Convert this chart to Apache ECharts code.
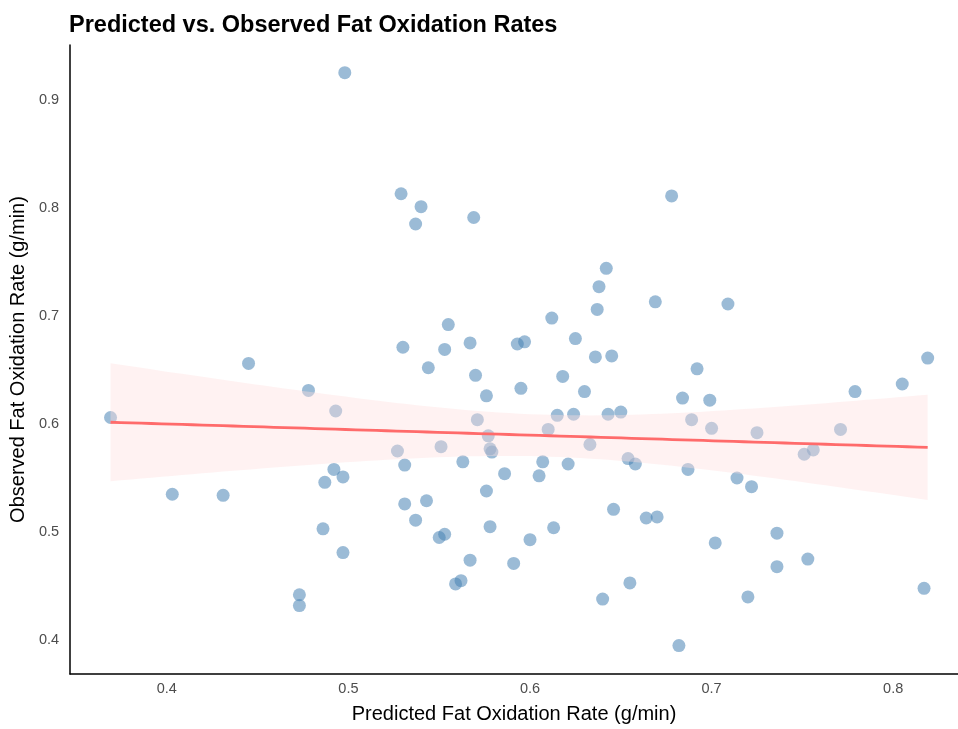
<!DOCTYPE html>
<html>
<head>
<meta charset="utf-8">
<script src="https://cdn.jsdelivr.net/npm/echarts@6/dist/echarts.min.js"></script>
<style>html,body{margin:0;padding:0;background:#fff}#chart{width:958px;height:729px}</style>
</head>
<body>
<div id="chart"></div>
<script>
// Predicted (x) and observed (y) fat oxidation rates, g/min
const predicted = [
  0.498,0.529,0.540,0.537,0.569,0.678,0.642,0.638,0.669,0.709,
  0.637,0.612,0.555,0.625,0.530,0.553,0.567,0.593,0.597,0.445,
  0.645,0.636,0.692,0.544,0.819,0.570,0.618,0.805,0.779,0.478,
  0.595,0.630,0.576,0.684,0.699,0.493,0.369,0.571,0.615,0.624,
  0.643,0.650,0.689,0.700,0.610,0.725,0.771,0.577,0.633,0.527,
  0.551,0.578,0.579,0.751,0.756,0.654,0.658,0.563,0.607,0.621,
  0.531,0.492,0.687,0.586,0.605,0.497,0.487,0.714,0.722,0.576,
  0.403,0.431,0.543,0.531,0.646,0.664,0.670,0.537,0.613,0.578,
  0.486,0.736,0.553,0.550,0.600,0.702,0.497,0.567,0.591,0.753,
  0.736,0.562,0.559,0.655,0.473,0.473,0.640,0.720,0.817,0.682
];
const observed = [
  0.925,0.813,0.801,0.785,0.791,0.811,0.744,0.727,0.713,0.711,
  0.706,0.698,0.692,0.679,0.671,0.669,0.675,0.674,0.676,0.656,
  0.663,0.662,0.651,0.652,0.661,0.645,0.644,0.637,0.630,0.631,
  0.633,0.630,0.626,0.624,0.622,0.612,0.606,0.604,0.608,0.609,
  0.609,0.611,0.604,0.596,0.595,0.592,0.595,0.589,0.581,0.575,
  0.579,0.577,0.574,0.572,0.576,0.568,0.563,0.565,0.565,0.563,
  0.562,0.558,0.558,0.554,0.552,0.551,0.546,0.550,0.542,0.538,
  0.535,0.534,0.529,0.526,0.521,0.513,0.514,0.511,0.504,0.505,
  0.503,0.499,0.498,0.495,0.493,0.490,0.481,0.474,0.471,0.475,
  0.468,0.455,0.452,0.453,0.442,0.432,0.438,0.440,0.448,0.395
];
const xTicks = [0.4, 0.5, 0.6, 0.7, 0.8];
const yTicks = [0.4, 0.5, 0.6, 0.7, 0.8, 0.9];

// linear fit with 95% confidence band (as geom_smooth(method = "lm"))
const n = predicted.length;
const mx = predicted.reduce((a, b) => a + b, 0) / n;
const my = observed.reduce((a, b) => a + b, 0) / n;
let sxx = 0, sxy = 0;
for (let i = 0; i < n; i++) { sxx += (predicted[i] - mx) ** 2; sxy += (predicted[i] - mx) * (observed[i] - my); }
const slope = sxy / sxx, intercept = my - slope * mx;
let sse = 0;
for (let i = 0; i < n; i++) sse += (observed[i] - (intercept + slope * predicted[i])) ** 2;
const s = Math.sqrt(sse / (n - 2));
const tq = 1.9845;
const xmin = Math.min(...predicted), xmax = Math.max(...predicted);
const fit = [], upper = [], lower = [];
for (let k = 0; k <= 80; k++) {
  const x = xmin + (xmax - xmin) * k / 80;
  const yh = intercept + slope * x;
  const se = s * Math.sqrt(1 / n + (x - mx) ** 2 / sxx);
  fit.push([x, yh]); upper.push([x, yh + tq * se]); lower.push([x, yh - tq * se]);
}
const bandPoly = upper.concat(lower.slice().reverse());

const chart = echarts.init(document.getElementById('chart'));
const font = 'Liberation Sans, Arial, sans-serif';
chart.setOption({
  animation: false,
  backgroundColor: '#ffffff',
  textStyle: { fontFamily: font },
  title: {
    text: 'Predicted vs. Observed Fat Oxidation Rates',
    left: 64, top: 9,
    textStyle: { fontSize: 23.5, fontWeight: 'bold', color: '#000', fontFamily: font }
  },
  grid: { left: 68, right: 0, top: 45, bottom: 52, containLabel: false },
  xAxis: {
    type: 'value', min: 0.3467, max: 0.8357,
    name: 'Predicted Fat Oxidation Rate (g/min)', nameLocation: 'middle', nameGap: 30,
    nameTextStyle: { fontSize: 20, color: '#000', fontFamily: font },
    axisLine: { show: true, onZero: false, lineStyle: { color: '#000', width: 1.5 } },
    axisTick: { show: false },
    splitLine: { show: false },
    axisLabel: { customValues: xTicks, color: '#4D4D4D', fontSize: 14.5, margin: 7, fontFamily: font,
      formatter: v => v.toFixed(1) }
  },
  yAxis: {
    type: 'value', min: 0.3687, max: 0.9506,
    name: 'Observed Fat Oxidation Rate (g/min)', nameLocation: 'middle', nameGap: 36,
    nameTextStyle: { fontSize: 20, color: '#000', fontFamily: font },
    axisLine: { show: true, onZero: false, lineStyle: { color: '#000', width: 1.5 } },
    axisTick: { show: false },
    splitLine: { show: false },
    axisLabel: { customValues: yTicks, color: '#4D4D4D', fontSize: 14.5, margin: 11, fontFamily: font,
      formatter: v => v.toFixed(1) }
  },
  series: [
    {
      type: 'scatter', z: 2,
      data: predicted.map((x, i) => [x, observed[i]]),
      symbolSize: 13,
      itemStyle: { color: 'rgba(70,130,180,0.68)' },
      silent: true
    },
    {
      type: 'custom', z: 3, silent: true,
      data: [0],
      renderItem: (params, api) => ({
        type: 'polygon',
        shape: { points: bandPoly.map(p => api.coord(p)) },
        style: { fill: 'rgba(255,222,222,0.4)', stroke: null }
      })
    },
    {
      type: 'line', z: 4, data: fit, showSymbol: false, silent: true,
      lineStyle: { color: '#FF6B6B', width: 2.8 }
    }
  ]
});
</script>
</body>
</html>
